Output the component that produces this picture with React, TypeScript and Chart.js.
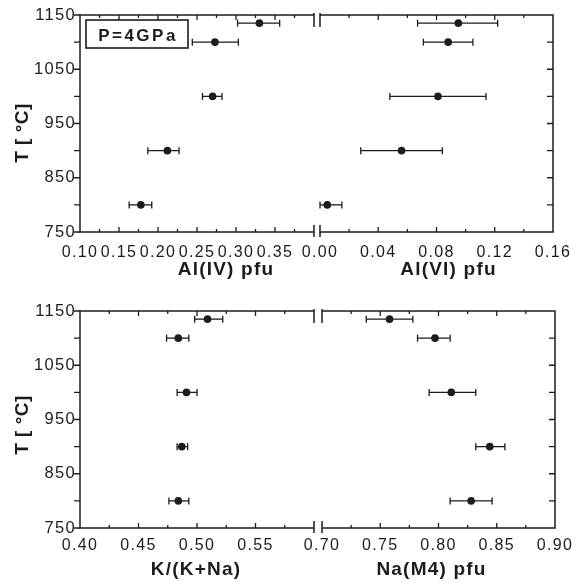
import React, { useEffect, useRef } from "react";
import { Chart, registerables } from "chart.js";
Chart.register(...registerables);

// ---- data ----
const temps = [1135, 1100, 1000, 900, 800];

const alIV = [0.330, 0.273, 0.270, 0.212, 0.178];
const alIVLo = [0.302, 0.244, 0.257, 0.187, 0.163];
const alIVHi = [0.356, 0.303, 0.282, 0.227, 0.192];

const alVI = [0.095, 0.088, 0.081, 0.056, 0.005];
const alVILo = [0.067, 0.071, 0.048, 0.028, 0.000];
const alVIHi = [0.122, 0.105, 0.114, 0.084, 0.015];

const kRatio = [0.509, 0.484, 0.491, 0.487, 0.484];
const kRatioLo = [0.498, 0.474, 0.483, 0.483, 0.476];
const kRatioHi = [0.522, 0.493, 0.500, 0.492, 0.493];

const naM4 = [0.758, 0.797, 0.811, 0.844, 0.828];
const naM4Lo = [0.738, 0.782, 0.792, 0.832, 0.810];
const naM4Hi = [0.778, 0.810, 0.832, 0.857, 0.846];

const tMin = 750;
const tMax = 1150;
const tLabelStep = 100;
const tMinorStep = 50;

const INK = "#1c1c1c";
const SANS = "'Liberation Sans', Arial, Helvetica, sans-serif";

type Panel = {
  key: string;
  values: number[];
  lo: number[];
  hi: number[];
  xMin: number;
  xMax: number;
  xStep: number;
  hideMaxLabel: boolean;
  side: "left" | "right";
  pad: { left: number; right: number; top: number; bottom: number };
  xHeight: number;
  labelPad: number;
  title: string;
  titleDx: number;
  titleBaseline: number;
  yTitleCenter?: number;
  pressureBox?: boolean;
};

const panels: Panel[] = [
  {
    key: "tl", values: alIV, lo: alIVLo, hi: alIVHi,
    xMin: 0.1, xMax: 0.4, xStep: 0.05, hideMaxLabel: true, side: "left",
    pad: { left: 0, right: 264, top: 15, bottom: 293 }, xHeight: 58, labelPad: 11,
    title: "Al(IV) pfu", titleDx: 29, titleBaseline: 275, yTitleCenter: 133, pressureBox: true,
  },
  {
    key: "tr", values: alVI, lo: alVILo, hi: alVIHi,
    xMin: 0, xMax: 0.16, xStep: 0.04, hideMaxLabel: false, side: "right",
    pad: { left: 320, right: 25, top: 15, bottom: 293 }, xHeight: 58, labelPad: 11,
    title: "Al(VI) pfu", titleDx: 12, titleBaseline: 275,
  },
  {
    key: "bl", values: kRatio, lo: kRatioLo, hi: kRatioHi,
    xMin: 0.4, xMax: 0.6, xStep: 0.05, hideMaxLabel: true, side: "left",
    pad: { left: 0, right: 264, top: 311, bottom: 0 }, xHeight: 55, labelPad: 8,
    title: "K/(K+Na)", titleDx: -1, titleBaseline: 575, yTitleCenter: 425,
  },
  {
    key: "br", values: naM4, lo: naM4Lo, hi: naM4Hi,
    xMin: 0.7, xMax: 0.9, xStep: 0.05, hideMaxLabel: false, side: "right",
    pad: { left: 322, right: 23, top: 311, bottom: 0 }, xHeight: 55, labelPad: 8,
    title: "Na(M4) pfu", titleDx: -7, titleBaseline: 575,
  },
];

function makeDecor(p: Panel) {
  return {
    id: "decor_" + p.key,
    beforeDraw(chart: any) {
      (chart.ctx as any).letterSpacing = "1.3px";
    },
    afterDraw(chart: any) {
      const ctx = chart.ctx as any;
      const { left, right, top, bottom } = chart.chartArea;
      const xs = chart.scales.x;
      const ys = chart.scales.y;
      ctx.save();
      ctx.letterSpacing = "0px";
      ctx.strokeStyle = INK;
      ctx.lineWidth = 1.5;
      ctx.lineCap = "butt";
      ctx.beginPath();
      ctx.moveTo(left, top);
      ctx.lineTo(right, top);
      ctx.moveTo(left, bottom);
      ctx.lineTo(right, bottom);
      const axisX = p.side === "left" ? left : right;
      const breakX = p.side === "left" ? right : left;
      ctx.moveTo(axisX, top - 0.75);
      ctx.lineTo(axisX, bottom + 0.75);
      // axis-break stubs
      ctx.moveTo(breakX, top - 2);
      ctx.lineTo(breakX, top + 12);
      ctx.moveTo(breakX, bottom - 7);
      ctx.lineTo(breakX, bottom + 5);
      ctx.stroke();

      // ticks
      ctx.lineWidth = 1.3;
      ctx.beginPath();
      for (let t = tMin; t <= tMax + 1e-6; t += tMinorStep) {
        const py = ys.getPixelForValue(t);
        if (p.side === "left") {
          ctx.moveTo(left - 6, py);
          ctx.lineTo(left, py);
        } else if (t > tMin && t < tMax) {
          ctx.moveTo(right - 6, py);
          ctx.lineTo(right, py);
        }
      }
      const minor = p.xStep / 2;
      const n = Math.round((p.xMax - p.xMin) / minor);
      for (let k = 1; k < n; k++) {
        const v = p.xMin + k * minor;
        const px = xs.getPixelForValue(v);
        const len = k % 2 === 0 ? 5 : 3;
        ctx.moveTo(px, top);
        ctx.lineTo(px, top + len);
        ctx.moveTo(px, bottom);
        ctx.lineTo(px, bottom - len);
      }
      ctx.stroke();

      // x title
      ctx.fillStyle = INK;
      ctx.font = `bold 19px ${SANS}`;
      ctx.letterSpacing = "1.2px";
      ctx.textAlign = "center";
      ctx.textBaseline = "alphabetic";
      ctx.fillText(p.title, (left + right) / 2 + p.titleDx, p.titleBaseline);

      // y title
      if (p.yTitleCenter !== undefined) {
        ctx.save();
        ctx.translate(23, p.yTitleCenter);
        ctx.rotate(-Math.PI / 2);
        ctx.textBaseline = "middle";
        ctx.letterSpacing = "0.5px";
        ctx.fillText("T [ °C]", 0, 0);
        ctx.restore();
      }

      if (p.pressureBox) {
        ctx.lineWidth = 1.6;
        ctx.strokeRect(86, 20, 102, 28);
        ctx.font = `bold 17px ${SANS}`;
        ctx.letterSpacing = "2.5px";
        ctx.textAlign = "center";
        ctx.textBaseline = "alphabetic";
        ctx.fillText("P=4GPa", 138, 40.5);
      }
      ctx.restore();
    },
  };
}

function PanelChart({ p }: { p: Panel }) {
  const ref = useRef<HTMLCanvasElement>(null);
  useEffect(() => {
    const errorSets = p.values.map((_, i) => ({
      data: [
        { x: p.lo[i], y: temps[i] },
        { x: p.hi[i], y: temps[i] },
      ],
      showLine: true,
      borderColor: INK,
      borderWidth: 1.3,
      pointStyle: "line",
      pointRotation: 90,
      pointRadius: 3.5,
      pointBorderWidth: 1.3,
      pointBorderColor: INK,
      pointBackgroundColor: INK,
      clip: false,
      order: 1,
    }));
    const pointSet = {
      data: p.values.map((v, i) => ({ x: v, y: temps[i] })),
      pointRadius: 3.8,
      pointBackgroundColor: INK,
      pointBorderColor: INK,
      pointBorderWidth: 0,
      showLine: false,
      clip: false,
      order: 0,
    };
    const chart = new Chart(ref.current as HTMLCanvasElement, {
      type: "scatter",
      data: { datasets: [...errorSets, pointSet] as any },
      options: {
        animation: false,
        responsive: false,
        events: [],
        layout: { padding: p.pad },
        plugins: { legend: { display: false }, tooltip: { enabled: false } },
        scales: {
          x: {
            type: "linear",
            min: p.xMin,
            max: p.xMax,
            grid: { display: false, drawTicks: false },
            border: { display: false },
            ticks: {
              stepSize: p.xStep,
              autoSkip: false,
              maxRotation: 0,
              minRotation: 0,
              padding: p.labelPad,
              color: INK,
              font: { family: SANS, size: 16 },
              callback: (v: any) =>
                p.hideMaxLabel && Math.abs(Number(v) - p.xMax) < 1e-9 ? "" : Number(v).toFixed(2),
            },
            afterFit: (s: any) => {
              s.height = p.xHeight;
              s.paddingLeft = 0;
              s.paddingRight = 0;
            },
          },
          y: {
            type: "linear",
            display: p.side === "left",
            min: tMin,
            max: tMax,
            grid: { display: false, drawTicks: false },
            border: { display: false },
            ticks: {
              stepSize: tLabelStep,
              autoSkip: false,
              padding: 4,
              color: INK,
              font: { family: SANS, size: 16.5 },
              callback: (v: any) => String(v),
            },
            afterFit: (s: any) => {
              s.width = p.side === "left" ? 80 : 0;
              s.paddingTop = 0;
              s.paddingBottom = 0;
            },
          },
        },
      } as any,
      plugins: [makeDecor(p)],
    });
    return () => chart.destroy();
  }, [p]);
  return (
    <canvas
      ref={ref}
      width={578}
      height={583}
      style={{ position: "absolute", left: 0, top: 0, width: 578, height: 583 }}
    />
  );
}

export default function App() {
  return (
    <div
      style={{
        position: "fixed",
        left: 0,
        top: 0,
        width: 578,
        height: 583,
        background: "#ffffff",
        overflow: "hidden",
      }}
    >
      {panels.map((p) => (
        <PanelChart key={p.key} p={p} />
      ))}
    </div>
  );
}
